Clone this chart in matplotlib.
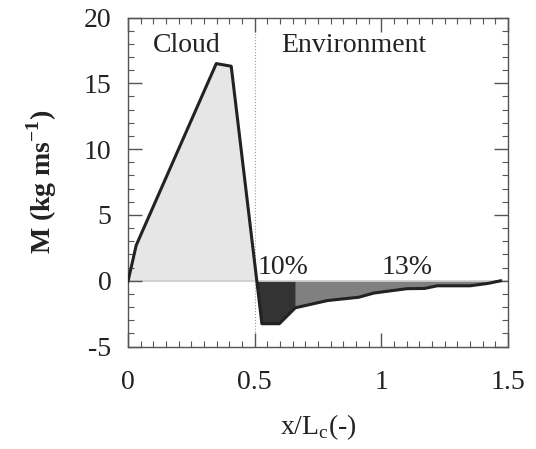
import matplotlib
matplotlib.use("Agg")
import matplotlib.pyplot as plt
import numpy as np
from matplotlib.ticker import MultipleLocator

plt.rcParams['font.family'] = ['Liberation Serif', 'DejaVu Serif']
plt.rcParams['mathtext.fontset'] = 'custom'
plt.rcParams['mathtext.rm'] = 'Liberation Serif'
plt.rcParams['mathtext.bf'] = 'Liberation Serif:bold'

# momentum flux profile
x = [0.0, 0.032, 0.348, 0.407, 0.508, 0.528, 0.597, 0.66, 0.787, 0.91, 0.97,
     1.10, 1.17, 1.22, 1.35, 1.42, 1.47]
m = [0.0, 2.7, 16.5, 16.3, 0.0, -3.26, -3.26, -2.05, -1.5, -1.25, -0.93,
     -0.6, -0.58, -0.38, -0.38, -0.2, 0.0]
xticks = [0, 0.5, 1, 1.5]
xticklabels = ['0', '0.5', '1', '1.5']
yticks = [-5, 0, 5, 10, 15, 20]
yticklabels = ['-5', '0', '5', '10', '15', '20']

x = np.array(x)
m = np.array(m)
x_zero = 0.508
x_split = 0.66

fig = plt.figure(figsize=(5.36, 4.49), dpi=100)
ax = fig.add_axes([0.239, 0.228, 0.709, 0.733])

cloud = x <= x_zero
ax.fill_between(x[cloud], m[cloud], 0, color='#e6e6e6', lw=0)
dark = (x >= x_zero) & (x <= x_split)
ax.fill_between(x[dark], m[dark], 0, color='#333333', lw=0)
grey = x >= x_split
ax.fill_between(x[grey], m[grey], 0, color='#808080', lw=0)

ax.axhline(0, color='#cccccc', lw=1.2, zorder=1)
ax.axvline(0.5, color='#999999', lw=0.8, ls=':', zorder=1)
ax.plot(x, m, color='#222222', lw=2.2, zorder=3)

ax.text(0.23, 17.9, 'Cloud', fontsize=20, ha='center', va='center', color='#222222')
ax.text(0.89, 17.9, 'Environment', fontsize=20, ha='center', va='center', color='#222222')
ax.text(0.51, 0.05, '10%', fontsize=20, ha='left', va='bottom', color='#222222')
ax.text(1.0, 0.05, '13%', fontsize=20, ha='left', va='bottom', color='#222222')

ax.set_xlim(0, 1.5)
ax.set_ylim(-5, 20)
ax.xaxis.set_minor_locator(MultipleLocator(0.05))
ax.yaxis.set_minor_locator(MultipleLocator(1))
ax.set_xticks(xticks)
ax.set_xticklabels(xticklabels)
ax.set_yticks(yticks)
ax.set_yticklabels(yticklabels)
ax.tick_params(which='both', direction='in', top=True, right=True, color='#555555',
               labelsize=20, labelcolor='#222222')
ax.tick_params(which='major', length=10, width=1)
ax.tick_params(which='minor', length=4, width=0.8)
ax.tick_params(axis='x', pad=17)
ax.tick_params(axis='y', pad=12)
for s in ax.spines.values():
    s.set_color('#555555')
    s.set_linewidth(1)

ax.set_xlabel(r'x/L$_\mathrm{c}$(-)', fontsize=20, color='#222222', labelpad=12)
ax.set_ylabel(r'M (kg ms$^{\mathbf{-1}}$)', fontsize=20, color='#222222',
              labelpad=18, fontweight='bold')

fig.savefig('out.png', dpi=100)
